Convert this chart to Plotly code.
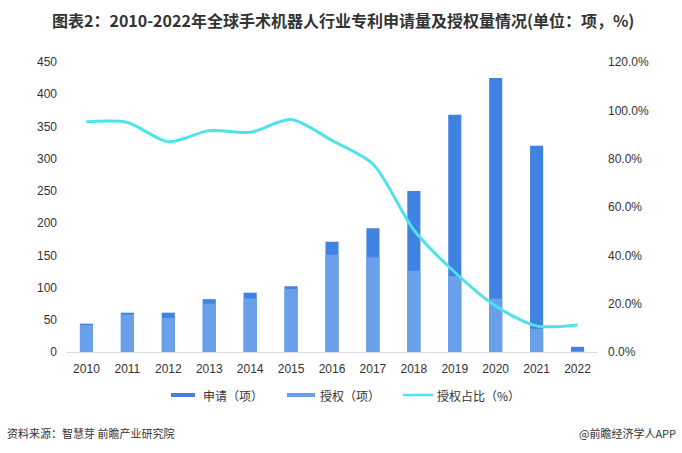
import plotly.graph_objects as go

years = ["2010", "2011", "2012", "2013", "2014", "2015", "2016",
         "2017", "2018", "2019", "2020", "2021", "2022"]
applications = [44, 61, 61, 82, 92, 102, 171, 192, 250, 368, 425, 320, 8]
grants = [42, 58, 53, 75, 83, 98, 151, 147, 126, 118, 83, 36, 1]
grant_ratio = [0.953, 0.950, 0.870, 0.916, 0.909, 0.962, 0.875,
               0.778, 0.505, 0.330, 0.190, 0.108, 0.112]

left_ticks = [0, 50, 100, 150, 200, 250, 300, 350, 400, 450]
right_ticks = [0, 0.2, 0.4, 0.6, 0.8, 1.0, 1.2]
right_labels = ["0.0%", "20.0%", "40.0%", "60.0%", "80.0%", "100.0%", "120.0%"]

C_APP = "#3f82e2"
C_GRANT = "#6a9fea"
C_LINE = "#4fe2ea"
TXT = "#333333"
NUMF = "Liberation Sans, Arial, sans-serif"
CJK = "Noto Sans CJK SC, sans-serif"

fig = go.Figure()
fig.add_trace(go.Bar(x=years, y=applications, name="申请（项）",
                     marker=dict(color=C_APP, line=dict(width=0)),
                     width=0.32, showlegend=False))
fig.add_trace(go.Bar(x=years, y=grants, name="授权（项）",
                     marker=dict(color=C_GRANT, line=dict(width=0)),
                     width=0.32, showlegend=False))
fig.add_trace(go.Scatter(x=years, y=grant_ratio, name="授权占比（%）",
                         yaxis="y2", mode="lines",
                         line=dict(color=C_LINE, width=3, shape="spline", smoothing=0.8),
                         showlegend=False))

W, H = 682, 453
L, R, T, B = 66, 84, 62, 101
pw, ph = W - L - R, H - T - B

fig.update_layout(
    width=W, height=H,
    margin=dict(l=L, r=R, t=T, b=B, autoexpand=False),
    paper_bgcolor="white", plot_bgcolor="white",
    barmode="overlay",
    xaxis=dict(showgrid=False, showline=True, linecolor="#d9d9d9", linewidth=1,
               ticks="", ticklabelstandoff=6,
               tickfont=dict(family=NUMF, size=12, color=TXT)),
    yaxis=dict(range=[0, 450], tickvals=left_ticks, showgrid=False, zeroline=False,
               showline=False, ticks="", ticklabelstandoff=8,
               tickfont=dict(family=NUMF, size=12, color=TXT)),
    yaxis2=dict(range=[0, 1.2], tickvals=right_ticks, ticktext=right_labels,
                overlaying="y", side="right", showgrid=False, zeroline=False,
                showline=False, ticks="", ticklabelstandoff=9,
                tickfont=dict(family=NUMF, size=12, color=TXT)),
)


def px(x):
    return (x - L) / pw


def py(y):
    return (H - B - y) / ph


annotations = [
    dict(text="<b>图表2：2010-2022年全球手术机器人行业专利申请量及授权量情况(单位：项，%)</b>",
         x=px(343), y=py(20), xref="paper", yref="paper", showarrow=False,
         xanchor="center", yanchor="middle",
         font=dict(family=CJK, size=16, color=TXT)),
    dict(text="资料来源：智慧芽 前瞻产业研究院", x=px(5), y=py(433), xref="paper", yref="paper",
         showarrow=False, xanchor="left", yanchor="middle",
         font=dict(family=CJK, size=11, color=TXT)),
    dict(text="@前瞻经济学人APP", x=px(678), y=py(433), xref="paper", yref="paper",
         showarrow=False, xanchor="right", yanchor="middle",
         font=dict(family=CJK, size=11, color=TXT)),
]
legend_items = [
    ("申请（项）", C_APP, 171, 195, 201, "bar"),
    ("授权（项）", C_GRANT, 287, 315, 318, "bar"),
    ("授权占比（%）", C_LINE, 403, 433, 435, "line"),
]
shapes = []
ly = 395
for label, col, x0, x1, tx, kind in legend_items:
    if kind == "bar":
        shapes.append(dict(type="rect", xref="paper", yref="paper",
                           x0=px(x0), x1=px(x1), y0=py(ly + 2), y1=py(ly - 2),
                           fillcolor=col, line=dict(width=0)))
    else:
        shapes.append(dict(type="line", xref="paper", yref="paper",
                           x0=px(x0), x1=px(x1), y0=py(ly), y1=py(ly),
                           line=dict(color=col, width=2.5)))
    annotations.append(dict(text=label, x=px(tx), y=py(ly), xref="paper", yref="paper",
                            showarrow=False, xanchor="left", yanchor="middle",
                            font=dict(family=CJK, size=12, color=TXT)))

fig.update_layout(annotations=annotations, shapes=shapes)
fig.write_html("out.html", config={"displayModeBar": False},
               post_script="document.body.style.margin='0';document.body.style.padding='0';")
